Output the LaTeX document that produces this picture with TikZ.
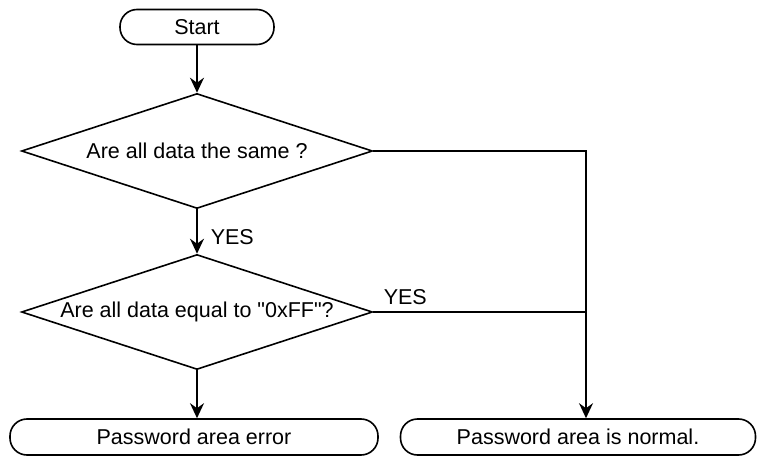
\documentclass[tikz,border=0pt]{standalone}
\usepackage{fontspec}
\setmainfont{Liberation Sans}
\usetikzlibrary{arrows.meta,shapes.geometric}

\begin{document}
\begin{tikzpicture}[
  x=1pt, y=-1pt,
  font=\fontsize{21.5}{24}\selectfont,
  line width=1.6pt,
  term/.style={draw, rounded corners=17pt, inner sep=0pt, minimum height=36pt},
  decide/.style={draw, diamond, aspect=3, inner sep=0pt, minimum width=351pt, minimum height=115pt},
  lbl/.style={anchor=west, inner sep=0pt},
  flow/.style={-{Stealth[length=15pt,width=14pt,inset=5pt]}}
]
\useasboundingbox (0,0) rectangle (758,457);
\node[term, minimum width=154pt, minimum height=35pt] (start) at (197,27) {Start};
\node[decide] (same) at (197,151) {Are all data the same ?};
\node[decide] (allff) at (197,312) {Are all data equal to \textquotedbl 0xFF\textquotedbl ?};
\node[term, minimum width=368pt] (err) at (194,437) {Password area error};
\node[term, minimum width=355pt] (ok) at (578,437) {Password area is normal.};
\coordinate (corner) at (586,151);

\draw[flow] (start) -- (same);
\draw[flow] (same) -- (allff);
\draw[flow] (allff.south) -- (allff.south |- err.north);
\draw[flow] (same.east) -- (corner) -- (corner |- ok.north);
\draw (allff.east) -- (allff.east -| corner);

\node[lbl] (yes1) at (210,237) {YES};
\node[lbl] (yes2) at (383,297) {YES};
\end{tikzpicture}
\end{document}
